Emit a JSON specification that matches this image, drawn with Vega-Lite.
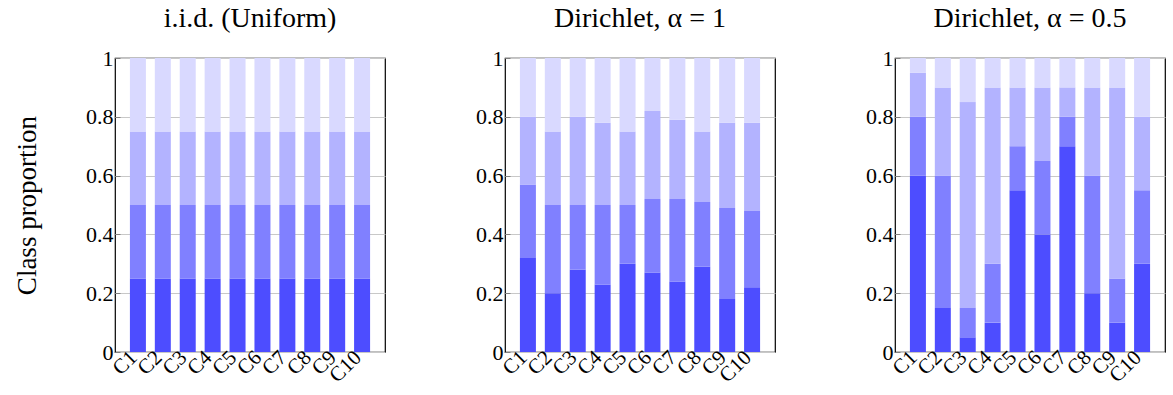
{
  "$schema": "https://vega.github.io/schema/vega-lite/v6.json",
  "padding": {"left": 12, "top": 4, "right": 2, "bottom": 0},
  "background": "white",
  "spacing": 88,
  "datasets": {
    "d": [
      {"p": "A", "c": "C1", "k": 1, "v": 0.25}, {"p": "A", "c": "C1", "k": 2, "v": 0.25}, {"p": "A", "c": "C1", "k": 3, "v": 0.25}, {"p": "A", "c": "C1", "k": 4, "v": 0.25},
      {"p": "A", "c": "C2", "k": 1, "v": 0.25}, {"p": "A", "c": "C2", "k": 2, "v": 0.25}, {"p": "A", "c": "C2", "k": 3, "v": 0.25}, {"p": "A", "c": "C2", "k": 4, "v": 0.25},
      {"p": "A", "c": "C3", "k": 1, "v": 0.25}, {"p": "A", "c": "C3", "k": 2, "v": 0.25}, {"p": "A", "c": "C3", "k": 3, "v": 0.25}, {"p": "A", "c": "C3", "k": 4, "v": 0.25},
      {"p": "A", "c": "C4", "k": 1, "v": 0.25}, {"p": "A", "c": "C4", "k": 2, "v": 0.25}, {"p": "A", "c": "C4", "k": 3, "v": 0.25}, {"p": "A", "c": "C4", "k": 4, "v": 0.25},
      {"p": "A", "c": "C5", "k": 1, "v": 0.25}, {"p": "A", "c": "C5", "k": 2, "v": 0.25}, {"p": "A", "c": "C5", "k": 3, "v": 0.25}, {"p": "A", "c": "C5", "k": 4, "v": 0.25},
      {"p": "A", "c": "C6", "k": 1, "v": 0.25}, {"p": "A", "c": "C6", "k": 2, "v": 0.25}, {"p": "A", "c": "C6", "k": 3, "v": 0.25}, {"p": "A", "c": "C6", "k": 4, "v": 0.25},
      {"p": "A", "c": "C7", "k": 1, "v": 0.25}, {"p": "A", "c": "C7", "k": 2, "v": 0.25}, {"p": "A", "c": "C7", "k": 3, "v": 0.25}, {"p": "A", "c": "C7", "k": 4, "v": 0.25},
      {"p": "A", "c": "C8", "k": 1, "v": 0.25}, {"p": "A", "c": "C8", "k": 2, "v": 0.25}, {"p": "A", "c": "C8", "k": 3, "v": 0.25}, {"p": "A", "c": "C8", "k": 4, "v": 0.25},
      {"p": "A", "c": "C9", "k": 1, "v": 0.25}, {"p": "A", "c": "C9", "k": 2, "v": 0.25}, {"p": "A", "c": "C9", "k": 3, "v": 0.25}, {"p": "A", "c": "C9", "k": 4, "v": 0.25},
      {"p": "A", "c": "C10", "k": 1, "v": 0.25}, {"p": "A", "c": "C10", "k": 2, "v": 0.25}, {"p": "A", "c": "C10", "k": 3, "v": 0.25}, {"p": "A", "c": "C10", "k": 4, "v": 0.25},

      {"p": "B", "c": "C1", "k": 1, "v": 0.32}, {"p": "B", "c": "C1", "k": 2, "v": 0.25}, {"p": "B", "c": "C1", "k": 3, "v": 0.23}, {"p": "B", "c": "C1", "k": 4, "v": 0.20},
      {"p": "B", "c": "C2", "k": 1, "v": 0.20}, {"p": "B", "c": "C2", "k": 2, "v": 0.30}, {"p": "B", "c": "C2", "k": 3, "v": 0.25}, {"p": "B", "c": "C2", "k": 4, "v": 0.25},
      {"p": "B", "c": "C3", "k": 1, "v": 0.28}, {"p": "B", "c": "C3", "k": 2, "v": 0.22}, {"p": "B", "c": "C3", "k": 3, "v": 0.30}, {"p": "B", "c": "C3", "k": 4, "v": 0.20},
      {"p": "B", "c": "C4", "k": 1, "v": 0.23}, {"p": "B", "c": "C4", "k": 2, "v": 0.27}, {"p": "B", "c": "C4", "k": 3, "v": 0.28}, {"p": "B", "c": "C4", "k": 4, "v": 0.22},
      {"p": "B", "c": "C5", "k": 1, "v": 0.30}, {"p": "B", "c": "C5", "k": 2, "v": 0.20}, {"p": "B", "c": "C5", "k": 3, "v": 0.25}, {"p": "B", "c": "C5", "k": 4, "v": 0.25},
      {"p": "B", "c": "C6", "k": 1, "v": 0.27}, {"p": "B", "c": "C6", "k": 2, "v": 0.25}, {"p": "B", "c": "C6", "k": 3, "v": 0.30}, {"p": "B", "c": "C6", "k": 4, "v": 0.18},
      {"p": "B", "c": "C7", "k": 1, "v": 0.24}, {"p": "B", "c": "C7", "k": 2, "v": 0.28}, {"p": "B", "c": "C7", "k": 3, "v": 0.27}, {"p": "B", "c": "C7", "k": 4, "v": 0.21},
      {"p": "B", "c": "C8", "k": 1, "v": 0.29}, {"p": "B", "c": "C8", "k": 2, "v": 0.22}, {"p": "B", "c": "C8", "k": 3, "v": 0.24}, {"p": "B", "c": "C8", "k": 4, "v": 0.25},
      {"p": "B", "c": "C9", "k": 1, "v": 0.18}, {"p": "B", "c": "C9", "k": 2, "v": 0.31}, {"p": "B", "c": "C9", "k": 3, "v": 0.29}, {"p": "B", "c": "C9", "k": 4, "v": 0.22},
      {"p": "B", "c": "C10", "k": 1, "v": 0.22}, {"p": "B", "c": "C10", "k": 2, "v": 0.26}, {"p": "B", "c": "C10", "k": 3, "v": 0.30}, {"p": "B", "c": "C10", "k": 4, "v": 0.22},

      {"p": "C", "c": "C1", "k": 1, "v": 0.60}, {"p": "C", "c": "C1", "k": 2, "v": 0.20}, {"p": "C", "c": "C1", "k": 3, "v": 0.15}, {"p": "C", "c": "C1", "k": 4, "v": 0.05},
      {"p": "C", "c": "C2", "k": 1, "v": 0.15}, {"p": "C", "c": "C2", "k": 2, "v": 0.45}, {"p": "C", "c": "C2", "k": 3, "v": 0.30}, {"p": "C", "c": "C2", "k": 4, "v": 0.10},
      {"p": "C", "c": "C3", "k": 1, "v": 0.05}, {"p": "C", "c": "C3", "k": 2, "v": 0.10}, {"p": "C", "c": "C3", "k": 3, "v": 0.70}, {"p": "C", "c": "C3", "k": 4, "v": 0.15},
      {"p": "C", "c": "C4", "k": 1, "v": 0.10}, {"p": "C", "c": "C4", "k": 2, "v": 0.20}, {"p": "C", "c": "C4", "k": 3, "v": 0.60}, {"p": "C", "c": "C4", "k": 4, "v": 0.10},
      {"p": "C", "c": "C5", "k": 1, "v": 0.55}, {"p": "C", "c": "C5", "k": 2, "v": 0.15}, {"p": "C", "c": "C5", "k": 3, "v": 0.20}, {"p": "C", "c": "C5", "k": 4, "v": 0.10},
      {"p": "C", "c": "C6", "k": 1, "v": 0.40}, {"p": "C", "c": "C6", "k": 2, "v": 0.25}, {"p": "C", "c": "C6", "k": 3, "v": 0.25}, {"p": "C", "c": "C6", "k": 4, "v": 0.10},
      {"p": "C", "c": "C7", "k": 1, "v": 0.70}, {"p": "C", "c": "C7", "k": 2, "v": 0.10}, {"p": "C", "c": "C7", "k": 3, "v": 0.10}, {"p": "C", "c": "C7", "k": 4, "v": 0.10},
      {"p": "C", "c": "C8", "k": 1, "v": 0.20}, {"p": "C", "c": "C8", "k": 2, "v": 0.40}, {"p": "C", "c": "C8", "k": 3, "v": 0.30}, {"p": "C", "c": "C8", "k": 4, "v": 0.10},
      {"p": "C", "c": "C9", "k": 1, "v": 0.10}, {"p": "C", "c": "C9", "k": 2, "v": 0.15}, {"p": "C", "c": "C9", "k": 3, "v": 0.65}, {"p": "C", "c": "C9", "k": 4, "v": 0.10},
      {"p": "C", "c": "C10", "k": 1, "v": 0.30}, {"p": "C", "c": "C10", "k": 2, "v": 0.25}, {"p": "C", "c": "C10", "k": 3, "v": 0.25}, {"p": "C", "c": "C10", "k": 4, "v": 0.20}
    ]
  },
  "config": {
    "font": "Liberation Serif, Times New Roman, DejaVu Serif, serif",
    "view": {"stroke": "black", "strokeWidth": 1.2},
    "title": {"font": "Liberation Serif, Times New Roman, DejaVu Serif, serif", "fontSize": 28, "fontWeight": "normal", "color": "black", "offset": 14},
    "axis": {"labelFont": "Liberation Serif, Times New Roman, DejaVu Serif, serif", "labelColor": "black", "titleFont": "Liberation Serif, Times New Roman, DejaVu Serif, serif", "titleColor": "black", "titleFontWeight": "normal"},
    "bar": {"strokeWidth": 0}
  },
  "hconcat": [
    {
      "title": "i.i.d. (Uniform)",
      "width": 270, "height": 294,
      "data": {"name": "d"},
      "transform": [{"filter": "datum.p === 'A'"}],
      "mark": {"type": "bar", "width": 16},
      "encoding": {
        "x": {"field": "c", "type": "nominal", "sort": null, "scale": {"paddingInner": 0.36, "paddingOuter": 0.6},
              "axis": {"title": null, "labelAngle": -45, "labelAlign": "right", "labelBaseline": "middle", "labelFontSize": 21, "ticks": false, "domain": false, "labelPadding": 2, "labelOffset": -4}},
        "y": {"field": "v", "type": "quantitative", "stack": "zero", "scale": {"domain": [0, 1], "nice": false},
              "axis": {"title": "Class proportion", "titleFontSize": 27, "titlePadding": 44, "values": [0, 0.2, 0.4, 0.6, 0.8, 1], "format": ".1~f", "labelFontSize": 22, "domain": false, "ticks": true, "tickSize": -5, "tickColor": "#808080", "labelPadding": 7, "gridColor": "#c8c8c8", "gridWidth": 1}},
        "color": {"field": "k", "type": "ordinal", "legend": null, "scale": {"domain": [1, 2, 3, 4], "range": ["#4d4dff", "#8080ff", "#b3b3ff", "#d9d9ff"]}},
        "order": {"field": "k", "type": "quantitative", "sort": "ascending"}
      }
    },
    {
      "title": "Dirichlet, α = 1",
      "width": 270, "height": 294,
      "data": {"name": "d"},
      "transform": [{"filter": "datum.p === 'B'"}],
      "mark": {"type": "bar", "width": 16},
      "encoding": {
        "x": {"field": "c", "type": "nominal", "sort": null, "scale": {"paddingInner": 0.36, "paddingOuter": 0.6},
              "axis": {"title": null, "labelAngle": -45, "labelAlign": "right", "labelBaseline": "middle", "labelFontSize": 21, "ticks": false, "domain": false, "labelPadding": 2, "labelOffset": -4}},
        "y": {"field": "v", "type": "quantitative", "stack": "zero", "scale": {"domain": [0, 1], "nice": false},
              "axis": {"title": null, "values": [0, 0.2, 0.4, 0.6, 0.8, 1], "format": ".1~f", "labelFontSize": 22, "domain": false, "ticks": true, "tickSize": -5, "tickColor": "#808080", "labelPadding": 7, "gridColor": "#c8c8c8", "gridWidth": 1}},
        "color": {"field": "k", "type": "ordinal", "legend": null, "scale": {"domain": [1, 2, 3, 4], "range": ["#4d4dff", "#8080ff", "#b3b3ff", "#d9d9ff"]}},
        "order": {"field": "k", "type": "quantitative", "sort": "ascending"}
      }
    },
    {
      "title": "Dirichlet, α = 0.5",
      "width": 270, "height": 294,
      "data": {"name": "d"},
      "transform": [{"filter": "datum.p === 'C'"}],
      "mark": {"type": "bar", "width": 16},
      "encoding": {
        "x": {"field": "c", "type": "nominal", "sort": null, "scale": {"paddingInner": 0.36, "paddingOuter": 0.6},
              "axis": {"title": null, "labelAngle": -45, "labelAlign": "right", "labelBaseline": "middle", "labelFontSize": 21, "ticks": false, "domain": false, "labelPadding": 2, "labelOffset": -4}},
        "y": {"field": "v", "type": "quantitative", "stack": "zero", "scale": {"domain": [0, 1], "nice": false},
              "axis": {"title": null, "values": [0, 0.2, 0.4, 0.6, 0.8, 1], "format": ".1~f", "labelFontSize": 22, "domain": false, "ticks": true, "tickSize": -5, "tickColor": "#808080", "labelPadding": 7, "gridColor": "#c8c8c8", "gridWidth": 1}},
        "color": {"field": "k", "type": "ordinal", "legend": null, "scale": {"domain": [1, 2, 3, 4], "range": ["#4d4dff", "#8080ff", "#b3b3ff", "#d9d9ff"]}},
        "order": {"field": "k", "type": "quantitative", "sort": "ascending"}
      }
    }
  ]
}
